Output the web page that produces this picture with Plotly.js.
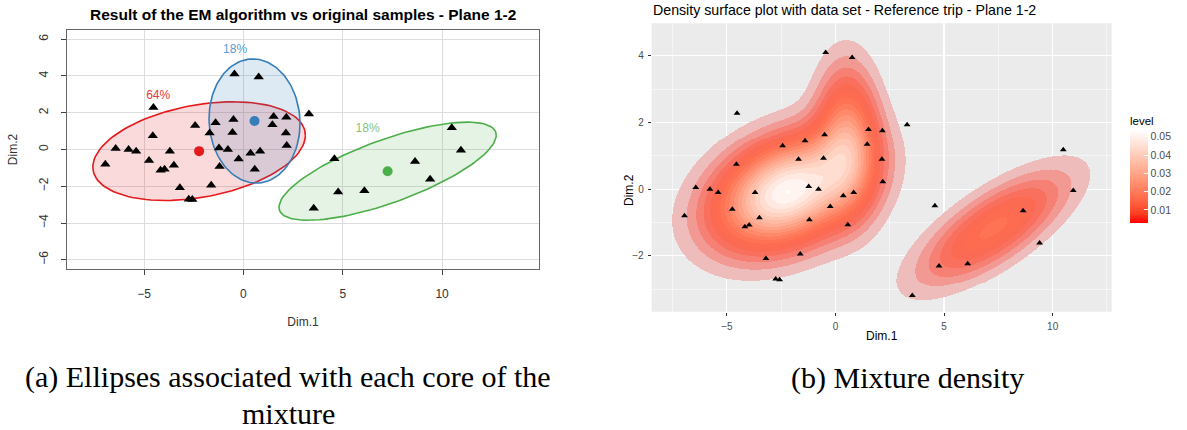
<!DOCTYPE html>
<html><head><meta charset="utf-8">
<script src="https://cdn.plot.ly/plotly-3.0.1.min.js"></script>
<style>html,body{margin:0;padding:0;background:#fff}#chart{width:1187px;height:430px}</style>
</head><body><div id="chart"></div>
<script>
// ---- data (original samples, plane 1-2) ----
const dim1 = [-0.45, 0.77, -4.53, 3.30, 1.52, 2.16, -2.43, -1.40, -0.50, 1.46,
  -4.56, -1.70, -0.55, 2.14, 2.18, -6.43, -5.78, -5.40, -3.70, -1.23,
  -0.78, 0.36, 0.84, -4.75, -0.24, -6.95, -3.50, -1.20, 0.57, -3.97,
  -4.17, -1.62, -3.20, -2.75, -2.57, 3.54, 10.95, 4.58, 8.64, 9.40,
  4.77, 6.09, 10.49];
const dim2 = [4.10, 3.95, 2.28, 1.93, 1.79, 1.75, 1.30, 1.45, 1.63, 1.35,
  0.75, 0.90, 0.93, 0.90, 0.22, 0.05, 0.00, -0.10, -0.10, 0.08,
  0.00, -0.20, -0.10, -0.60, -0.52, -0.80, -0.86, -0.92, -1.07, -1.08,
  -1.13, -1.95, -2.08, -2.70, -2.72, -3.19, -0.04, -0.50, -0.65, -1.62,
  -2.31, -2.24, 1.18];

// ---- EM mixture components (weights, means, covariances) ----
const compLabels = ['64%', '18%', '18%'];
const compWeight = [0.64, 0.18, 0.18];
const compCenterX = [-2.23, 0.56, 7.26];
const compCenterY = [-0.09, 1.55, -1.18];
const compVarX = [4.774, 0.875, 4.991];
const compVarY = [1.202, 1.903, 1.190];
const compCovXY = [0.768, -0.050, 1.786];
const ellipseChi2 = 5.991; // 95 % ellipse
const compLabelX = [-4.29, -0.42, 6.25];
const compLabelY = [2.91, 5.43, 1.14];
const compColors = ['#E41A1C', '#377EB8', '#4DAF4A'];
const compFill = ['rgba(228,26,28,0.16)', 'rgba(55,126,184,0.17)', 'rgba(77,175,74,0.15)'];
const compTextColors = ['#EA3A3C', '#5B9BD5', '#82C580'];

// ---- density legend ----
const levelTicks = [0.01, 0.02, 0.03, 0.04, 0.05];
const levelTickText = ['0.01', '0.02', '0.03', '0.04', '0.05'];
const levelRange = [0.0028, 0.0537];
const nBins = 20;
const alphaRange = [0.2, 1];

// ---- helpers ----
function srgbToLin(c) { c /= 255; return c <= 0.04045 ? c / 12.92 : Math.pow((c + 0.055) / 1.055, 2.4); }
function linToSrgb(c) { c = Math.max(0, Math.min(1, c)); return 255 * (c <= 0.0031308 ? 12.92 * c : 1.055 * Math.pow(c, 1 / 2.4) - 0.055); }
function rgb2lab(rgb) {
  const r = srgbToLin(rgb[0]), g = srgbToLin(rgb[1]), b = srgbToLin(rgb[2]);
  const X = (0.4124 * r + 0.3576 * g + 0.1805 * b) / 0.95047, Y = 0.2126 * r + 0.7152 * g + 0.0722 * b, Z = (0.0193 * r + 0.1192 * g + 0.9505 * b) / 1.08883;
  const f = t => t > 0.008856 ? Math.cbrt(t) : 7.787 * t + 16 / 116;
  const fx = f(X), fy = f(Y), fz = f(Z);
  return [116 * fy - 16, 500 * (fx - fy), 200 * (fy - fz)];
}
function lab2rgb(lab) {
  const fy = (lab[0] + 16) / 116, fx = fy + lab[1] / 500, fz = fy - lab[2] / 200;
  const fi = t => t ** 3 > 0.008856 ? t ** 3 : (t - 16 / 116) / 7.787;
  const X = 0.95047 * fi(fx), Y = fi(fy), Z = 1.08883 * fi(fz);
  return [linToSrgb(3.2406 * X - 1.5372 * Y - 0.4986 * Z), linToSrgb(-0.9689 * X + 1.8758 * Y + 0.0415 * Z), linToSrgb(0.0557 * X - 0.2040 * Y + 1.0570 * Z)];
}
const labLow = rgb2lab([255, 0, 0]), labHigh = rgb2lab([255, 255, 255]);
function gradColor(t) {
  return lab2rgb([0, 1, 2].map(i => labLow[i] + (labHigh[i] - labLow[i]) * t));
}
const rgbStr = c => 'rgb(' + c.map(v => Math.round(v)).join(',') + ')';

// ---- ellipses (95 % regions of the components) ----
const traces = [];
for (let k = 0; k < 3; k++) {
  const sx = Math.sqrt(compVarX[k] * ellipseChi2);
  const l21 = compCovXY[k] * ellipseChi2 / sx, l22 = Math.sqrt(compVarY[k] * ellipseChi2 - l21 * l21);
  const ex = [], ey = [];
  for (let i = 0; i <= 120; i++) {
    const t = 2 * Math.PI * i / 120;
    ex.push(compCenterX[k] + sx * Math.cos(t));
    ey.push(compCenterY[k] + l21 * Math.cos(t) + l22 * Math.sin(t));
  }
  traces.push({ x: ex, y: ey, xaxis: 'x', yaxis: 'y', mode: 'lines', fill: 'toself', fillcolor: compFill[k],
    line: { color: compColors[k], width: 1.6 }, hoverinfo: 'skip', type: 'scatter' });
}
traces.push({ x: dim1, y: dim2, xaxis: 'x', yaxis: 'y', mode: 'markers', type: 'scatter',
  marker: { symbol: 'triangle-up', size: 9, color: '#000' } });
traces.push({ x: compCenterX, y: compCenterY, xaxis: 'x', yaxis: 'y', mode: 'markers', type: 'scatter',
  marker: { symbol: 'circle', size: 10, color: compColors } });
traces.push({ x: compLabelX, y: compLabelY, xaxis: 'x', yaxis: 'y', mode: 'text', type: 'scatter',
  text: compLabels, textfont: { size: 12, color: compTextColors, family: 'Liberation Sans, Arial, sans-serif' } });

// ---- mixture density on a grid ----
const x2r = [-8.46, 12.72], y2r = [-3.68, 4.98];
const NX = 460, NY = 290;
const gx = [], gy = [];
for (let i = 0; i < NX; i++) gx.push(x2r[0] + (x2r[1] - x2r[0]) * (i + 0.5) / NX);
for (let j = 0; j < NY; j++) gy.push(y2r[0] + (y2r[1] - y2r[0]) * (j + 0.5) / NY);
const comps = compWeight.map((w, k) => {
  const det = compVarX[k] * compVarY[k] - compCovXY[k] ** 2;
  return { w: w / (2 * Math.PI * Math.sqrt(det)), a: compVarY[k] / det, b: -compCovXY[k] / det, c: compVarX[k] / det };
});
let zmax = 0;
const dens = [];
for (let j = 0; j < NY; j++) {
  const row = [];
  for (let i = 0; i < NX; i++) {
    let d = 0;
    for (let k = 0; k < comps.length; k++) {
      const dx = gx[i] - compCenterX[k], dy = gy[j] - compCenterY[k], q = comps[k];
      d += q.w * Math.exp(-0.5 * (q.a * dx * dx + 2 * q.b * dx * dy + q.c * dy * dy));
    }
    if (d > zmax) zmax = d;
    row.push(d);
  }
  dens.push(row);
}
// contour levels: nBins bins over [0, max density]
const nLevels = nBins - 1;
const levels = [];
for (let k = 1; k <= nLevels; k++) levels.push(zmax * k / nLevels * 0.999);
const zBand = dens.map(row => row.map(d => {
  let b = 0;
  while (b < nLevels && d >= levels[b]) b++;
  return b > 0 ? b : null;
}));
// composite colours of stacked translucent contour polygons on the grey panel
const bandCs = [];
let comp = [235, 235, 235];
for (let k = 0; k < nLevels; k++) {
  const t = k / (nLevels - 1);
  const c = gradColor(t), a = alphaRange[0] + (alphaRange[1] - alphaRange[0]) * t;
  comp = comp.map((v, i) => v * (1 - a) + c[i] * a);
  bandCs.push([k / nLevels, rgbStr(comp)]);
  bandCs.push([(k + 1) / nLevels, rgbStr(comp)]);
}
traces.push({ type: 'heatmap', x: gx, y: gy, z: zBand, xaxis: 'x2', yaxis: 'y2', zmin: 0.5, zmax: nLevels + 0.5,
  colorscale: bandCs, showscale: false, zsmooth: false, hoverinfo: 'skip' });
traces.push({ x: dim1, y: dim2, xaxis: 'x2', yaxis: 'y2', mode: 'markers', type: 'scatter',
  marker: { symbol: 'triangle-up', size: 6, color: '#000' } });
// legend colour bar
const legCs = [];
for (let i = 0; i <= 10; i++) legCs.push([i / 10, rgbStr(gradColor(i / 10))]);
traces.push({ x: [-100, -100], y: [-100, -100], xaxis: 'x2', yaxis: 'y2', mode: 'markers', type: 'scatter', hoverinfo: 'skip',
  marker: { color: levelRange, cmin: levelRange[0], cmax: levelRange[1], colorscale: legCs, showscale: true, size: 1,
    colorbar: { x: 1130 / 1187, xanchor: 'left', y: 1 - 168 / 430, yanchor: 'middle', len: 110 / 430, lenmode: 'fraction',
      thickness: 18, outlinewidth: 0, ticks: 'inside', ticklen: 4, tickcolor: '#fff', tickwidth: 1,
      tickvals: levelTicks, ticktext: levelTickText, tickfont: { size: 10.5, color: '#4D4D4D' }, xpad: 0, ypad: 0,
      title: { text: 'level', side: 'top', font: { size: 11.5, color: '#000' } } } } });

const sans = 'Liberation Sans, Arial, sans-serif';
const serif = 'Liberation Serif, Times New Roman, serif';
const layout = {
  width: 1187, height: 430, margin: { l: 0, r: 0, t: 0, b: 0 }, paper_bgcolor: '#fff', plot_bgcolor: 'rgba(0,0,0,0)',
  showlegend: false, font: { family: sans },
  xaxis: { domain: [67 / 1187, 539 / 1187], range: [-8.88, 14.88], tickvals: [-5, 0, 5, 10], ticks: 'outside', ticklen: 5,
    tickcolor: '#444', showgrid: true, gridcolor: '#DDDDDD', gridwidth: 1, zeroline: false, showline: true, mirror: true,
    linecolor: '#666', linewidth: 1.2, tickfont: { size: 12, color: '#333' }, ticklabelstandoff: 8,
    title: { text: 'Dim.1', font: { size: 12, color: '#333' }, standoff: 18 } },
  yaxis: { anchor: 'x', domain: [1 - 269 / 430, 1 - 30 / 430], range: [-6.5, 6.5], tickvals: [-6, -4, -2, 0, 2, 4, 6], tickangle: -90,
    ticks: 'outside', ticklen: 5, tickcolor: '#444', showgrid: true, gridcolor: '#DDDDDD', gridwidth: 1, zeroline: false,
    showline: true, mirror: true, linecolor: '#666', linewidth: 1.2, tickfont: { size: 12, color: '#333' }, ticklabelstandoff: 8,
    title: { text: 'Dim.2', font: { size: 12, color: '#333' }, standoff: 16 } },
  xaxis2: { anchor: 'y2', domain: [651.7 / 1187, 1111.7 / 1187], range: x2r, tickvals: [-5, 0, 5, 10], ticks: 'outside', ticklen: 3,
    tickcolor: '#333', showgrid: true, gridcolor: '#fff', gridwidth: 1.1, zeroline: false, showline: false,
    minor: { dtick: 2.5, tick0: 0, showgrid: true, gridcolor: '#fff', gridwidth: 0.5 },
    tickfont: { size: 10, color: '#4D4D4D' }, ticklabelstandoff: 2,
    title: { text: 'Dim.1', font: { size: 12, color: '#000' }, standoff: 0 } },
  yaxis2: { anchor: 'x2', domain: [1 - 311.7 / 430, 1 - 23.3 / 430], range: y2r, tickvals: [-2, 0, 2, 4], ticks: 'outside', ticklen: 3,
    tickcolor: '#333', showgrid: true, gridcolor: '#fff', gridwidth: 1.1, zeroline: false, showline: false,
    minor: { dtick: 1, tick0: 0, showgrid: true, gridcolor: '#fff', gridwidth: 0.5 },
    tickfont: { size: 10, color: '#4D4D4D' }, ticklabelstandoff: 2 },
  shapes: [{ type: 'rect', xref: 'x2 domain', yref: 'y2 domain', x0: 0, x1: 1, y0: 0, y1: 1, fillcolor: '#EBEBEB', line: { width: 0 }, layer: 'below' }],
  annotations: [
    { text: '<b>Result of the EM algorithm vs original samples - Plane 1-2</b>', xref: 'paper', yref: 'paper', x: 303 / 1187, y: 1 - 15 / 430,
      xanchor: 'center', yanchor: 'middle', showarrow: false, font: { size: 15.5, color: '#000', family: sans } },
    { text: 'Density surface plot with data set - Reference trip - Plane 1-2', xref: 'paper', yref: 'paper', x: 651 / 1187, y: 1 - 10 / 430,
      xanchor: 'left', yanchor: 'middle', showarrow: false, font: { size: 14.2, color: '#000', family: sans } },
    { text: 'Dim.2', xref: 'paper', yref: 'paper', x: 629 / 1187, y: 1 - 190 / 430, textangle: -90,
      xanchor: 'center', yanchor: 'middle', showarrow: false, font: { size: 12, color: '#000', family: sans } },
    { text: '(a) Ellipses associated with each core of the', xref: 'paper', yref: 'paper', x: 288 / 1187, y: 1 - 377 / 430,
      xanchor: 'center', yanchor: 'middle', showarrow: false, font: { size: 30, color: '#000', family: serif } },
    { text: 'mixture', xref: 'paper', yref: 'paper', x: 288 / 1187, y: 1 - 413 / 430,
      xanchor: 'center', yanchor: 'middle', showarrow: false, font: { size: 30, color: '#000', family: serif } },
    { text: '(b) Mixture density', xref: 'paper', yref: 'paper', x: 907 / 1187, y: 1 - 378 / 430,
      xanchor: 'center', yanchor: 'middle', showarrow: false, font: { size: 30, color: '#000', family: serif } }
  ]
};
Plotly.newPlot('chart', traces, layout, { staticPlot: true });
</script>
</body></html>
